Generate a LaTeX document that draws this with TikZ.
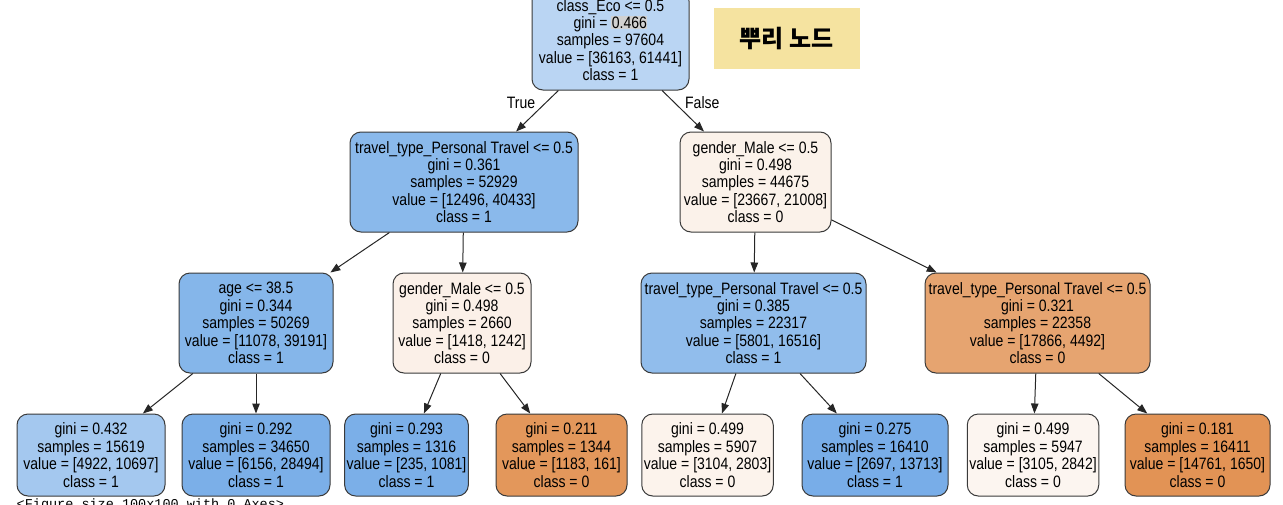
\documentclass[tikz,border=0pt]{standalone}
\usepackage{fontspec}
\setmainfont{Liberation Sans}[FakeStretch=0.85]
\setmonofont{Liberation Mono}
\newfontfamily\kofont{Noto Sans CJK KR}
\usepackage{xcolor}
\usepackage{tikz}
\usetikzlibrary{arrows.meta,positioning}
\definecolor{skzero}{HTML}{DE8640}
\definecolor{skone}{HTML}{5699E2}
\definecolor{skedge}{HTML}{3A3A3A}
\definecolor{notegold}{HTML}{F5E3A0}
\newcommand{\hl}[1]{{\setlength{\fboxsep}{0.5pt}\colorbox{black!18}{#1}}}

\begin{document}
\begin{tikzpicture}[
  font=\fontsize{16.5}{17.4}\selectfont,
  node distance=40pt and 24pt,
  split/.style={draw=skedge, line width=1pt, rounded corners=11pt,
                minimum height=100pt, align=center, inner sep=2pt},
  leaf/.style={split, minimum height=82pt},
  note/.style={fill=notegold, minimum width=146pt, minimum height=61pt,
               font=\kofont\bfseries\fontsize{24}{28}\selectfont},
  edgelbl/.style={inner sep=1pt},
  arrow/.style={-{Triangle[length=10pt, width=7.5pt]}, line width=1pt, draw=black!85}
]
  \useasboundingbox (0pt,0pt) rectangle (1283pt,-504pt);

  \node[split, fill=skone!41, minimum width=157pt] (root) at (610.5pt,-40pt)
    {class\_Eco <= 0.5\\gini = \hl{0.466}\\samples = 97604\\value = [36163, 61441]\\class = 1};
  \node[note, right=24pt of root, yshift=1.5pt] (rootnote) {뿌리 노드};

  \node[split, fill=skone!69, minimum width=228pt, below=41pt of root, xshift=-146.5pt] (personal)
    {travel\_type\_Personal Travel <= 0.5\\gini = 0.361\\samples = 52929\\value = [12496, 40433]\\class = 1};
  \node[split, fill=skzero!11, minimum width=151pt, below=41pt of root, xshift=145pt] (gender)
    {gender\_Male <= 0.5\\gini = 0.498\\samples = 44675\\value = [23667, 21008]\\class = 0};

  \node[split, fill=skone!72, minimum width=154pt, below=of personal, xshift=-208pt] (age)
    {age <= 38.5\\gini = 0.344\\samples = 50269\\value = [11078, 39191]\\class = 1};
  \node[split, fill=skzero!12, minimum width=138pt, below=of personal, xshift=-2pt] (genderb)
    {gender\_Male <= 0.5\\gini = 0.498\\samples = 2660\\value = [1418, 1242]\\class = 0};
  \node[split, fill=skone!65, minimum width=225pt, below=of gender, xshift=-2pt] (travelf)
    {travel\_type\_Personal Travel <= 0.5\\gini = 0.385\\samples = 22317\\value = [5801, 16516]\\class = 1};
  \node[split, fill=skzero!75, minimum width=225pt, below=of gender, xshift=282pt] (travelm)
    {travel\_type\_Personal Travel <= 0.5\\gini = 0.321\\samples = 22358\\value = [17866, 4492]\\class = 0};

  \node[leaf, fill=skone!54, minimum width=148pt, below=of age, xshift=-165pt] (leafa)
    {gini = 0.432\\samples = 15619\\value = [4922, 10697]\\class = 1};
  \node[leaf, fill=skone!78, minimum width=148pt, below=of age] (leafb)
    {gini = 0.292\\samples = 34650\\value = [6156, 28494]\\class = 1};
  \node[leaf, fill=skone!78, minimum width=121pt, below=of genderb, xshift=-55.5pt] (leafc)
    {gini = 0.293\\samples = 1316\\value = [235, 1081]\\class = 1};
  \node[leaf, fill=skzero!86, minimum width=131pt, below=of genderb, xshift=99.5pt] (leafd)
    {gini = 0.211\\samples = 1344\\value = [1183, 161]\\class = 0};
  \node[leaf, fill=skzero!10, minimum width=129pt, below=of travelf, xshift=-46pt] (leafe)
    {gini = 0.499\\samples = 5907\\value = [3104, 2803]\\class = 0};
  \node[leaf, fill=skone!80, minimum width=146pt, below=of travelf, xshift=121.5pt] (leaff)
    {gini = 0.275\\samples = 16410\\value = [2697, 13713]\\class = 1};
  \node[leaf, fill=skzero!8, minimum width=130pt, below=of travelm, xshift=-4.5pt] (leafg)
    {gini = 0.499\\samples = 5947\\value = [3105, 2842]\\class = 0};
  \node[leaf, fill=skzero!89, minimum width=145pt, below=of travelm, xshift=160pt] (leafh)
    {gini = 0.181\\samples = 16411\\value = [14761, 1650]\\class = 0};

  \node[inner sep=0pt, font=\ttfamily\fontsize{13.5}{15}\selectfont, below right=2pt and 0pt of leafa.south west] (figsize)
    {<Figure size 100x100 with 0 Axes>};

  \draw[arrow] (root) -- node[edgelbl, pos=0.3, left=9pt] (truelbl) {True} (personal);
  \draw[arrow] (root) -- node[edgelbl, pos=0.3, right=9pt] (falselbl) {False} (gender);
  \draw[arrow] (personal) -- (age);
  \draw[arrow] (personal) -- (genderb);
  \draw[arrow] (gender) -- (travelf);
  \draw[arrow] (gender) -- (travelm);
  \draw[arrow] (age) -- (leafa);
  \draw[arrow] (age) -- (leafb);
  \draw[arrow] (genderb) -- (leafc);
  \draw[arrow] (genderb) -- (leafd);
  \draw[arrow] (travelf) -- (leafe);
  \draw[arrow] (travelf) -- (leaff);
  \draw[arrow] (travelm) -- (leafg);
  \draw[arrow] (travelm) -- (leafh);
\end{tikzpicture}
\end{document}
